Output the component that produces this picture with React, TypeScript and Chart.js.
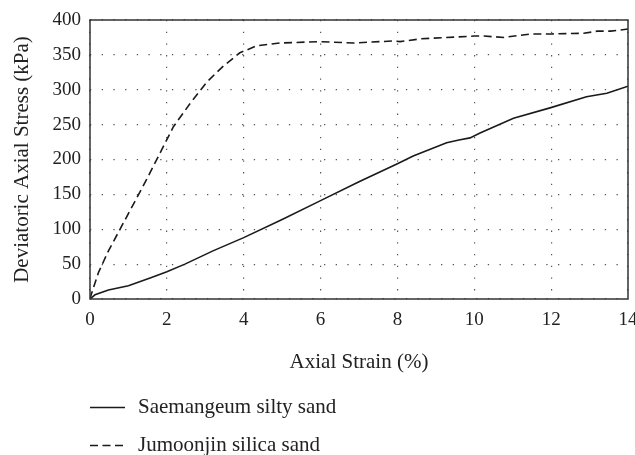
import React, { useEffect, useRef } from "react";
import { Chart, registerables } from "chart.js";

Chart.register(...registerables);

const seriesNames = ["Saemangeum silty sand", "Jumoonjin silica sand"];

const siltyStrain = [0, 0.13, 0.48, 1.0, 1.6, 2.0, 2.47, 3.2, 4.0, 5.0, 6.0, 7.0, 8.0, 8.41, 9.28, 9.6, 9.89, 10.15, 11.02, 11.97, 12.92, 13.45, 14.0];
const siltyStress = [0, 6, 13, 19, 31, 39, 50, 69, 88, 114, 141, 168, 194, 205, 224, 228, 231, 238, 259, 274, 290, 295, 305];

const silicaStrain = [0, 0.03, 0.22, 0.48, 0.82, 1.17, 1.47, 1.82, 2.17, 2.6, 3.04, 3.47, 3.9, 4.34, 4.94, 5.98, 6.85, 7.9, 8.07, 8.6, 10.0, 10.25, 10.77, 11.47, 12.0, 12.85, 13.2, 13.55, 14.0];
const silicaStress = [0, 6, 38, 69, 104, 140, 171, 209, 247, 280, 311, 334, 353, 363, 367, 369, 367, 370, 369, 373, 377, 377, 375, 380, 380, 381, 384, 384, 387];

const xTitle = "Axial Strain (%)";
const yTitle = "Deviatoric Axial Stress (kPa)";

const FONT = "'Liberation Serif', 'DejaVu Serif', serif";
const TEXT = "#222";
const TICK_FS = 19;
const TITLE_FS = 21;
const GRID_DASH = [1.3, 10.4];
const GRID_COLOR = "#555";

const framePlugin = {
  id: "frame",
  afterDraw(chart: any) {
    const { ctx, chartArea: a } = chart;
    ctx.save();
    ctx.strokeStyle = "#333";
    ctx.lineWidth = 1.5;
    ctx.setLineDash([]);
    ctx.strokeRect(a.left, a.top, a.right - a.left, a.bottom - a.top);
    ctx.restore();
  },
};

const legendPlugin = {
  id: "stackedLegend",
  afterDraw(chart: any) {
    const { ctx } = chart;
    const rows = [407, 445];
    ctx.save();
    chart.data.datasets.forEach((ds: any, i: number) => {
      const y = rows[i];
      ctx.strokeStyle = ds.borderColor;
      ctx.lineWidth = ds.borderWidth;
      ctx.setLineDash(ds.borderDash || []);
      ctx.beginPath();
      ctx.moveTo(90, y + 0.5);
      ctx.lineTo(125, y + 0.5);
      ctx.stroke();
      ctx.setLineDash([]);
      ctx.fillStyle = TEXT;
      ctx.font = `${TITLE_FS}px ${FONT}`;
      ctx.textBaseline = "middle";
      ctx.textAlign = "left";
      ctx.fillText(ds.label, 138, y);
    });
    ctx.restore();
  },
};

export default function App() {
  const ref = useRef<HTMLCanvasElement | null>(null);
  useEffect(() => {
    if (!ref.current) return;
    const chart = new Chart(ref.current, {
      type: "line",
      data: {
        datasets: [
          {
            label: seriesNames[0],
            data: siltyStrain.map((x, i) => ({ x, y: siltyStress[i] })),
            borderColor: "#1a1a1a",
            backgroundColor: "transparent",
            borderWidth: 1.6,
            pointRadius: 0,
            tension: 0,
          },
          {
            label: seriesNames[1],
            data: silicaStrain.map((x, i) => ({ x, y: silicaStress[i] })),
            borderColor: "#1a1a1a",
            backgroundColor: "transparent",
            borderWidth: 1.6,
            borderDash: [8, 4.5],
            pointRadius: 0,
            tension: 0,
          },
        ],
      },
      options: {
        responsive: false,
        animation: false,
        layout: { padding: { left: 0, right: 7, top: 20, bottom: 71 } },
        plugins: {
          legend: { display: false },
          tooltip: { enabled: false },
        },
        scales: {
          x: {
            type: "linear",
            min: 0,
            max: 14,
            ticks: { stepSize: 2, color: TEXT, font: { family: FONT, size: TICK_FS }, padding: 10, maxRotation: 0 },
            grid: { color: GRID_COLOR, drawTicks: false, lineWidth: 1.2 },
            border: { display: false, dash: GRID_DASH },
            title: { display: true, text: xTitle, color: TEXT, font: { family: FONT, size: TITLE_FS }, padding: { top: 0, bottom: 9 } },
            afterFit(scale: any) {
              scale.height = 85;
              scale.paddingLeft = 0;
              scale.paddingRight = 0;
            },
          },
          y: {
            min: 0,
            max: 400,
            ticks: { stepSize: 50, color: TEXT, font: { family: FONT, size: TICK_FS }, padding: 9 },
            grid: { color: GRID_COLOR, drawTicks: false, lineWidth: 1.2 },
            border: { display: false, dash: GRID_DASH },
            title: { display: true, text: yTitle, color: TEXT, font: { family: FONT, size: TITLE_FS }, padding: { top: 10, bottom: 0 } },
            afterFit(scale: any) {
              scale.width = 90;
              scale.paddingTop = 0;
              scale.paddingBottom = 0;
            },
          },
        },
      },
      plugins: [framePlugin, legendPlugin],
    });
    return () => chart.destroy();
  }, []);
  return (
    <div style={{ position: "fixed", left: 0, top: 0, width: 635, height: 455, background: "#fff" }}>
      <canvas ref={ref} width={635} height={455} style={{ width: 635, height: 455 }} />
    </div>
  );
}
